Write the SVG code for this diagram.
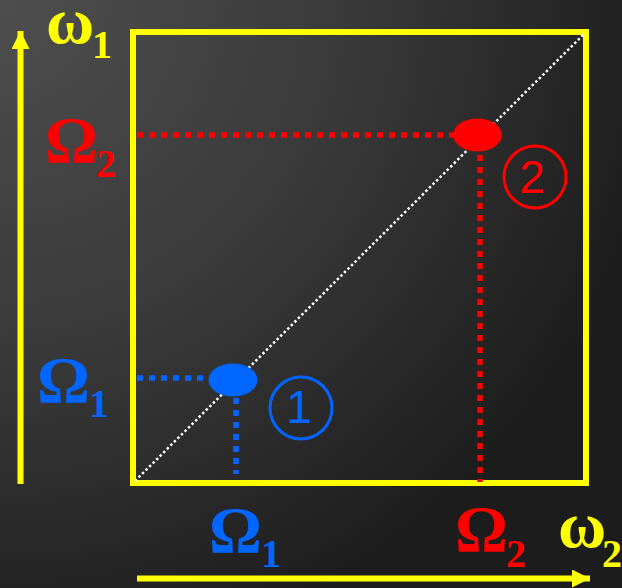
<svg xmlns="http://www.w3.org/2000/svg" width="622" height="588" viewBox="0 0 622 588">
<defs>
<radialGradient id="bg" cx="0" cy="0" r="680" gradientUnits="userSpaceOnUse">
<stop offset="0" stop-color="#4e4e4e"/>
<stop offset="0.5" stop-color="#3a3a3a"/>
<stop offset="1" stop-color="#1c1c1c"/>
</radialGradient>
<marker id="ah" viewBox="0 0 10 10" refX="10" refY="5" markerWidth="3" markerHeight="3" markerUnits="strokeWidth" orient="auto">
<path d="M0,0 L10,5 L0,10 z" fill="#ffff00"/>
</marker>
</defs>
<style>
.lbl{font-family:"Liberation Serif","Times New Roman",serif;font-weight:bold;font-size:66px}
.sub{font-family:"Liberation Serif","Times New Roman",serif;font-weight:bold;font-size:40px}
.num{font-family:"Liberation Sans",Arial,sans-serif;font-size:46px;text-anchor:middle}
.y{fill:#ffff00}.r{fill:#ff0000}.b{fill:#0066ff}
.dotb{stroke:#0066ff;stroke-width:5.5;stroke-dasharray:6 6;fill:none}
.dotr{stroke:#ff0000;stroke-width:5.5;stroke-dasharray:6 6;fill:none}
</style>
<rect width="622" height="588" fill="url(#bg)"/>
<g id="axes">
<line x1="20.5" y1="484" x2="20.5" y2="31" stroke="#ffff00" stroke-width="6" marker-end="url(#ah)"/>
<line x1="137" y1="578.5" x2="590" y2="578.5" stroke="#ffff00" stroke-width="6" marker-end="url(#ah)"/>
</g>
<g id="box">
<rect x="133" y="32" width="453" height="451" fill="none" stroke="#ffff00" stroke-width="6"/>
</g>
<g id="connectors">
<line x1="135" y1="481" x2="584" y2="34" stroke="#ffffff" stroke-width="2.5" stroke-dasharray="2.5 2.5"/>
<line class="dotb" x1="137" y1="378" x2="210" y2="378"/>
<line class="dotb" x1="236" y1="398" x2="236" y2="474"/>
<line class="dotr" x1="137" y1="135" x2="455" y2="135"/>
<line class="dotr" x1="480" y1="155" x2="480" y2="482"/>
</g>
<g id="point1">
<ellipse cx="233" cy="380" rx="24.5" ry="16.5" fill="#0066ff"/>
</g>
<g id="point2">
<ellipse cx="477.5" cy="135" rx="24.5" ry="16.5" fill="#ff0000"/>
</g>
<g id="mark1">
<circle cx="301" cy="408" r="31" fill="none" stroke="#0066ff" stroke-width="3"/>
<text class="num b" x="299" y="423">1</text>
</g>
<g id="mark2">
<circle cx="535" cy="177" r="31" fill="none" stroke="#ff0000" stroke-width="3"/>
<text class="num r" x="532" y="193">2</text>
</g>
<g id="labels">
<text class="y" x="46" y="43"><tspan class="lbl">ω</tspan><tspan class="sub" x="92" y="58">1</tspan></text>
<text class="r" x="45" y="162"><tspan class="lbl">Ω</tspan><tspan class="sub" x="96" y="177">2</tspan></text>
<text class="b" x="37" y="402"><tspan class="lbl">Ω</tspan><tspan class="sub" x="89" y="417">1</tspan></text>
<text class="b" x="209" y="552"><tspan class="lbl">Ω</tspan><tspan class="sub" x="261" y="567">1</tspan></text>
<text class="r" x="455" y="551"><tspan class="lbl">Ω</tspan><tspan class="sub" x="506" y="567">2</tspan></text>
<text class="y" x="558" y="547"><tspan class="lbl">ω</tspan><tspan class="sub" x="602" y="567">2</tspan></text>
</g>
</svg>
